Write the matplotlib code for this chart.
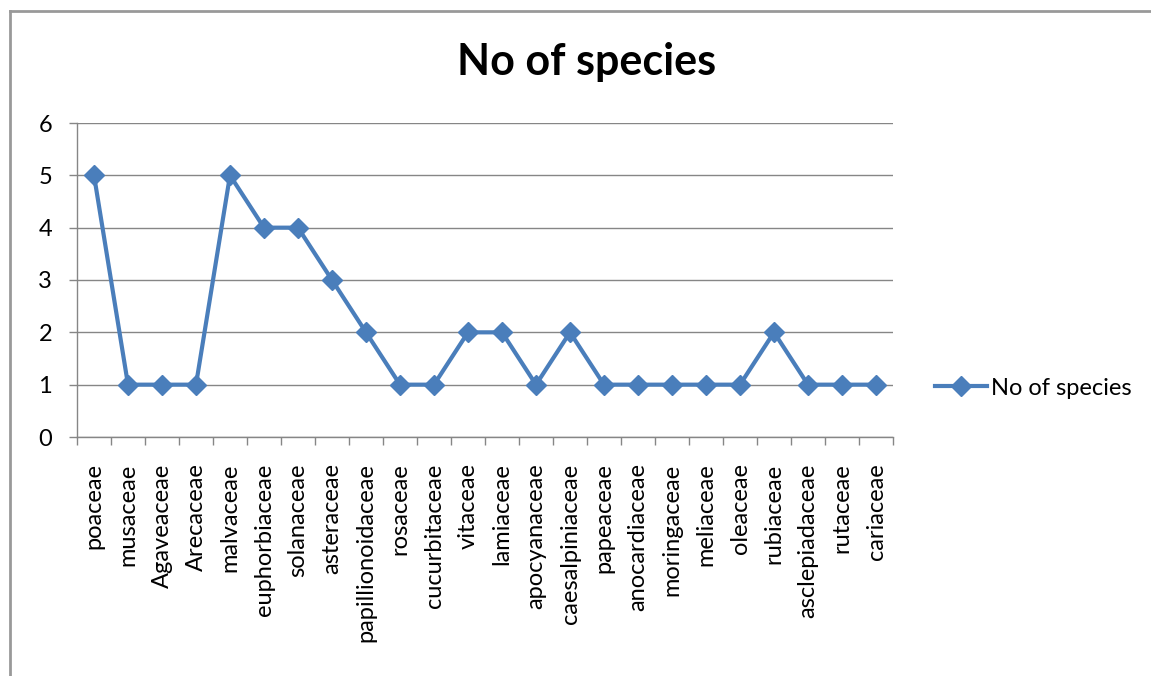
import numpy as np
import matplotlib
matplotlib.use('Agg')
import matplotlib.pyplot as plt
from matplotlib.lines import Line2D

plt.rcParams['font.family'] = ['Lato', 'DejaVu Sans']

# data
families = ['poaceae', 'musaceae', 'Agaveaceae', 'Arecaceae', 'malvaceae',
            'euphorbiaceae', 'solanaceae', 'asteraceae', 'papillionoidaceae',
            'rosaceae', 'cucurbitaceae', 'vitaceae', 'lamiaceae', 'apocyanaceae',
            'caesalpiniaceae', 'papeaceae', 'anocardiaceae', 'moringaceae',
            'meliaceae', 'oleaceae', 'rubiaceae', 'asclepiadaceae', 'rutaceae',
            'cariaceae']
species = [5, 1, 1, 1, 5, 4, 4, 3, 2, 1, 1, 2, 2, 1, 2, 1, 1, 1, 1, 1, 2, 1, 1, 1]
y_ticks = [0, 1, 2, 3, 4, 5, 6]

BLUE = '#4A7EBB'
GRID = '#868686'

W, H = 1151, 676
fig = plt.figure(figsize=(W / 100, H / 100), dpi=100, facecolor='white')
ax = fig.add_axes([77 / W, 1 - 437 / H, (893 - 77) / W, (437 - 123) / H])

x = np.arange(len(families))
ax.plot(x, species, color=BLUE, lw=3, marker='D', markersize=10,
        markerfacecolor=BLUE, markeredgecolor=BLUE, solid_joinstyle='miter',
        label='No of species', zorder=3)

ax.set_xlim(-0.5, len(families) - 0.5)
ax.set_ylim(0, 6)
ax.set_yticks(y_ticks)
ax.set_yticklabels([str(v) for v in y_ticks], fontsize=17)
ax.yaxis.grid(True, color=GRID, lw=1)
ax.set_axisbelow(True)

ax.set_xticks(x)
ax.set_xticklabels(families, rotation=90, fontsize=17, va='top')
ax.set_xticks(np.arange(-0.5, len(families), 1), minor=True)
ax.tick_params(axis='x', which='major', length=0, pad=19)
ax.tick_params(axis='x', which='minor', length=6, color=GRID, width=1, direction='out')
ax.tick_params(axis='y', length=6, color=GRID, width=1, direction='out', pad=12)

for s in ['top', 'right']:
    ax.spines[s].set_visible(False)
for s in ['left', 'bottom']:
    ax.spines[s].set_color(GRID)
    ax.spines[s].set_linewidth(1)

fig.text(587 / W, 1 - 62 / H, 'No of species', ha='center', va='center',
         fontsize=31, fontweight='bold')

ax.legend(loc='center left', bbox_to_anchor=(923 / W, 1 - 388 / H),
          bbox_transform=fig.transFigure, frameon=False, fontsize=17,
          handlelength=2.2, handletextpad=0.2, borderpad=0)

# outer chart frame (left and top edges visible)
fig.add_artist(Line2D([10 / W, 10 / W], [0, 1 - 11 / H], color='#999999', lw=2,
                      transform=fig.transFigure))
fig.add_artist(Line2D([10 / W, 1], [1 - 11 / H, 1 - 11 / H], color='#999999', lw=2,
                      transform=fig.transFigure))

fig.savefig('out.png', dpi=100, facecolor='white')
